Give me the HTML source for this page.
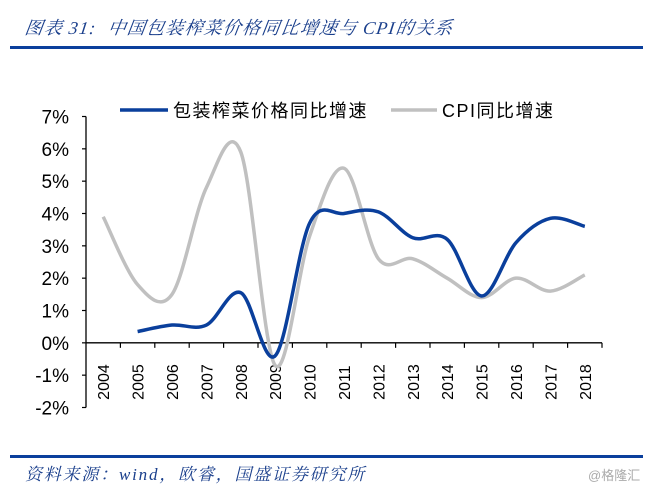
<!DOCTYPE html>
<html><head><meta charset="utf-8"><style>
body{margin:0;background:#fff;width:645px;height:486px;overflow:hidden;position:relative;font-family:"Liberation Sans","Noto Sans CJK SC",sans-serif}
.t{position:absolute;white-space:nowrap}
</style></head><body>
<div class="t" style="left:25px;top:14px;font-size:18px;letter-spacing:1.2px;font-style:italic;color:#1a3f8c;font-family:'Liberation Serif','Noto Serif CJK SC',serif;transform:skewX(-8deg)">图表 31:&nbsp; 中国包装榨菜价格同比增速与 CPI的关系</div>
<div style="position:absolute;left:10px;top:46px;width:633px;height:3px;background:#0a3f9c"></div>
<svg id="c" width="645" height="486" style="position:absolute;left:0;top:0"></svg>
<div style="position:absolute;left:10px;top:455px;width:633px;height:3px;background:#0a3f9c"></div>
<div class="t" style="left:25px;top:460px;font-size:17px;letter-spacing:1.8px;font-style:italic;color:#1a3f8c;font-family:'Liberation Serif','Noto Serif CJK SC',serif">资料来源：wind，欧睿，国盛证券研究所</div>
<div class="t" style="left:588px;top:465px;font-size:13px;color:#aaa">@格隆汇</div>
<script>
const categories=["2004","2005","2006","2007","2008","2009","2010","2011","2012","2013","2014","2015","2016","2017","2018"];
const packagedPickle=[null,0.35,0.55,0.55,1.55,-0.4,3.7,4.0,4.05,3.25,3.2,1.45,3.1,3.85,3.6];
const cpi=[3.9,1.8,1.5,4.8,5.9,-0.7,3.3,5.4,2.6,2.6,2.0,1.4,2.0,1.6,2.1];
const yTicks=[7,6,5,4,3,2,1,0,-1,-2];
const NS="http://www.w3.org/2000/svg",svg=document.getElementById('c');
const x0=86,x1=602,yTop=116.5,yBot=407.5,vMax=7,vMin=-2;
const y=v=>yTop+(vMax-v)*(yBot-yTop)/(vMax-vMin);
const bw=(x1-x0)/categories.length;
const x=i=>x0+bw*(i+0.5);
function mk(tag,at,par){const e=document.createElementNS(NS,tag);for(const k in at)e.setAttribute(k,at[k]);(par||svg).appendChild(e);return e;}
let ax=mk('line',{x1:x0,y1:yTop,x2:x0,y2:yBot,stroke:'#000','stroke-width':1.3});

yTicks.forEach(v=>{
 mk('line',{x1:x0-4,y1:y(v),x2:x0,y2:y(v),stroke:'#000','stroke-width':1.2});
 const t=mk('text',{x:x0-17,y:y(v)+7,'text-anchor':'end','font-size':19,fill:'#000'});
 t.textContent=v+'%';
 
});
let xa=mk('line',{x1:x0,y1:y(0),x2:x1,y2:y(0),stroke:'#000','stroke-width':1.3});

categories.forEach((c,i)=>{
 mk('line',{x1:x0+bw*(i+1),y1:y(0),x2:x0+bw*(i+1),y2:y(0)+5,stroke:'#000','stroke-width':1.2});
 const t=mk('text',{transform:`translate(${x(i)+6},${y(0)+57}) rotate(-90)`,'font-size':16,fill:'#000'});
 t.textContent=c;
 
});
function path(vals){
 const p=[];vals.forEach((v,i)=>{if(v!==null)p.push([x(i),y(v)]);});
 let d=`M${p[0][0]},${p[0][1]}`;
 for(let i=0;i<p.length-1;i++){
  const a=p[i-1]||p[i],b=p[i],c=p[i+1],e=p[i+2]||c,k=6;
  d+=` C${b[0]+(c[0]-a[0])/k},${b[1]+(c[1]-a[1])/k} ${c[0]-(e[0]-b[0])/k},${c[1]-(e[1]-b[1])/k} ${c[0]},${c[1]}`;
 }
 return d;
}
let g=mk('path',{d:path(cpi),fill:'none',stroke:'#c0c0c0','stroke-width':3.5});

let b=mk('path',{d:path(packagedPickle),fill:'none',stroke:'#0a3f9c','stroke-width':3.5});

let l1=mk('line',{x1:120,y1:110,x2:168,y2:110,stroke:'#0a3f9c','stroke-width':3.5});

let lt1=mk('text',{x:173,y:117,'font-size':18,'letter-spacing':1.5,fill:'#000'});lt1.textContent='包装榨菜价格同比增速';

let l2=mk('line',{x1:391,y1:110,x2:437,y2:110,stroke:'#c0c0c0','stroke-width':3.5});

let lt2=mk('text',{x:442,y:117,'font-size':18,'letter-spacing':1.5,fill:'#000'});lt2.textContent='CPI同比增速';

</script>
</body></html>
